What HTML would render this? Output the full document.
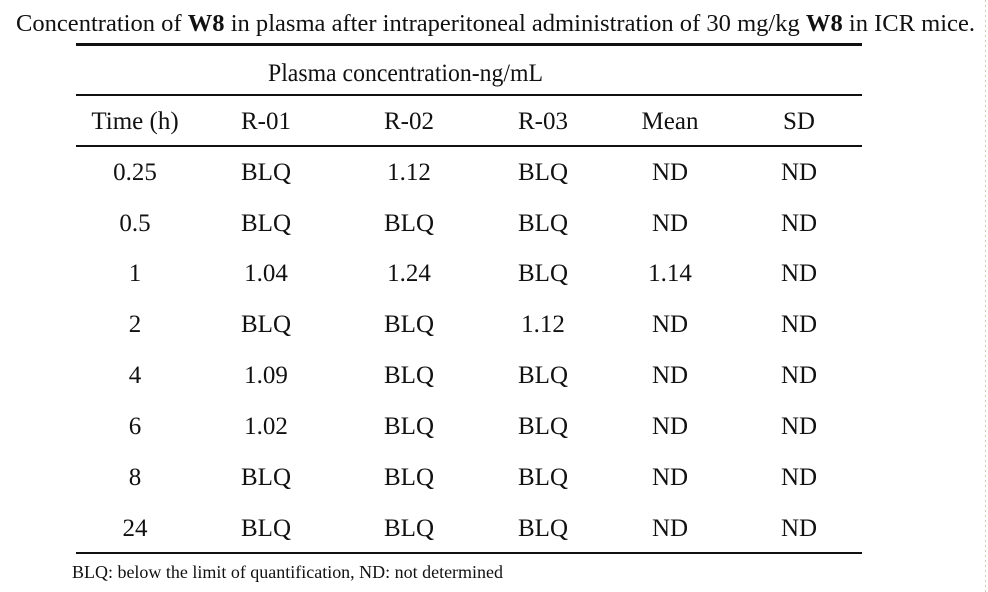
<!DOCTYPE html>
<html><head><meta charset="utf-8"><style>
html,body{margin:0;padding:0;background:#fff;}
svg{display:block;}
text{font-family:"Liberation Serif","Times New Roman","DejaVu Serif Condensed",serif;fill:#111;}
</style></head><body>
<svg width="988" height="592" viewBox="0 0 988 592">
<line x1="985.5" y1="0" x2="985.5" y2="592" stroke="#d9c9b0" stroke-width="1" stroke-dasharray="2,3"/>
<text x="16" y="31" font-size="24" textLength="959" lengthAdjust="spacingAndGlyphs">Concentration of <tspan font-weight="bold">W8</tspan> in plasma after intraperitoneal administration of 30 mg/kg <tspan font-weight="bold">W8</tspan> in ICR mice.</text>
<rect x="76" y="43" width="786" height="3" fill="#111"/>
<rect x="76" y="94" width="786" height="2" fill="#111"/>
<rect x="76" y="145" width="786" height="2" fill="#111"/>
<rect x="76" y="552" width="786" height="2" fill="#111"/>
<text x="268" y="81" font-size="25" textLength="275" lengthAdjust="spacingAndGlyphs">Plasma concentration-ng/mL</text>
<g font-size="25" text-anchor="middle">
<text x="135" y="129">Time (h)</text><text x="266" y="129">R-01</text><text x="409" y="129">R-02</text><text x="543" y="129">R-03</text><text x="670" y="129">Mean</text><text x="799" y="129">SD</text>

<text x="135" y="180">0.25</text><text x="266" y="180">BLQ</text><text x="409" y="180">1.12</text><text x="543" y="180">BLQ</text><text x="670" y="180">ND</text><text x="799" y="180">ND</text>
<text x="135" y="231">0.5</text><text x="266" y="231">BLQ</text><text x="409" y="231">BLQ</text><text x="543" y="231">BLQ</text><text x="670" y="231">ND</text><text x="799" y="231">ND</text>
<text x="135" y="281">1</text><text x="266" y="281">1.04</text><text x="409" y="281">1.24</text><text x="543" y="281">BLQ</text><text x="670" y="281">1.14</text><text x="799" y="281">ND</text>
<text x="135" y="332">2</text><text x="266" y="332">BLQ</text><text x="409" y="332">BLQ</text><text x="543" y="332">1.12</text><text x="670" y="332">ND</text><text x="799" y="332">ND</text>
<text x="135" y="383">4</text><text x="266" y="383">1.09</text><text x="409" y="383">BLQ</text><text x="543" y="383">BLQ</text><text x="670" y="383">ND</text><text x="799" y="383">ND</text>
<text x="135" y="434">6</text><text x="266" y="434">1.02</text><text x="409" y="434">BLQ</text><text x="543" y="434">BLQ</text><text x="670" y="434">ND</text><text x="799" y="434">ND</text>
<text x="135" y="485">8</text><text x="266" y="485">BLQ</text><text x="409" y="485">BLQ</text><text x="543" y="485">BLQ</text><text x="670" y="485">ND</text><text x="799" y="485">ND</text>
<text x="135" y="536">24</text><text x="266" y="536">BLQ</text><text x="409" y="536">BLQ</text><text x="543" y="536">BLQ</text><text x="670" y="536">ND</text><text x="799" y="536">ND</text>
</g>
<text x="72" y="578" font-size="18" textLength="431" lengthAdjust="spacingAndGlyphs">BLQ: below the limit of quantification, ND: not determined</text>
</svg>
</body></html>
